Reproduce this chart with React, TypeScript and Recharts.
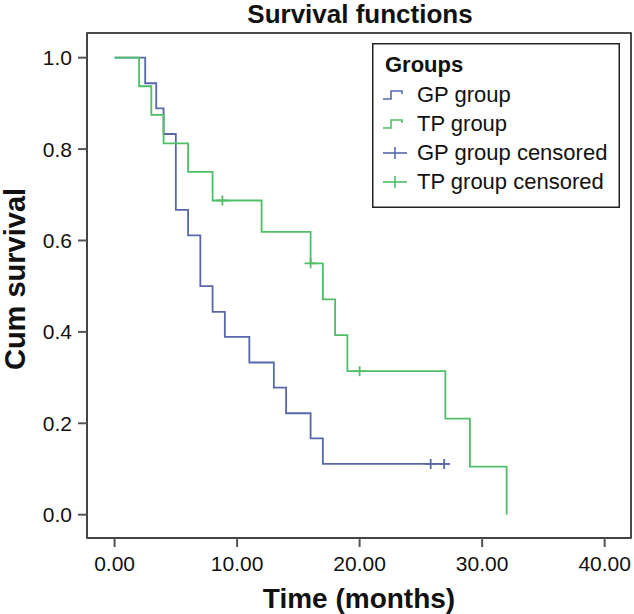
import { ComposedChart, Line, Scatter, XAxis, YAxis, ReferenceArea, Legend } from "recharts";

// Kaplan-Meier steps (time in months, cum survival)
const gpTime = [0, 2.5, 3.4, 4, 5, 6, 7, 8, 9, 11, 13, 14, 16, 17, 27];
const gpSurv = [1, 0.944, 0.889, 0.833, 0.667, 0.611, 0.5, 0.444, 0.389, 0.333, 0.278, 0.222, 0.167, 0.111, 0.111];
const gpCensTime = [25.8, 26.9];
const gpCensSurv = [0.111, 0.111];

const tpTime = [0, 2, 3, 4, 6, 8, 12, 16, 17, 18, 19, 27, 29, 32];
const tpSurv = [1, 0.9375, 0.875, 0.8125, 0.75, 0.6875, 0.619, 0.55, 0.471, 0.393, 0.314, 0.21, 0.105, 0];
const tpCensTime = [8.8, 16, 20];
const tpCensSurv = [0.6875, 0.55, 0.314];

const xTicks = [0, 10, 20, 30, 40];
const yTicks = [0, 0.2, 0.4, 0.6, 0.8, 1.0];
const legendNames = ["GP group", "TP group", "GP group censored", "TP group censored"];

const GP = "#5867ad";
const TP = "#4fbf66";
const FONT = "Arial, 'Liberation Sans', sans-serif";
const xDom = [-2.25, 42.15];
const yDom = [-0.051, 1.054];

const toPts = (t: number[], s: number[]) => t.map((v, i) => ({ t: v, s: s[i] }));

const gpData = toPts(gpTime, gpSurv);
const tpData = toPts(tpTime, tpSurv);
const gpCens = toPts(gpCensTime, gpCensSurv);
const tpCens = toPts(tpCensTime, tpCensSurv);

const cross = (color: string) => (p: any) => (
  <g>
    <line x1={p.cx - 6} x2={p.cx + 6} y1={p.cy} y2={p.cy} stroke={color} strokeWidth={1.8} />
    <line x1={p.cx} x2={p.cx} y1={p.cy - 5} y2={p.cy + 5} stroke={color} strokeWidth={1.8} />
  </g>
);

function LegendBox() {
  const colors = [GP, TP, GP, TP];
  return (
    <svg width={248} height={165} style={{ display: "block", fontFamily: FONT }}>
      <rect x={0.75} y={0.75} width={246.5} height={163.5} fill="#fff" stroke="#222" strokeWidth={1.5} />
      <text x={13} y={29} fontSize={22} fontWeight="bold" fill="#111">Groups</text>
      {legendNames.map((name, i) => {
        const base = 59 + i * 29;
        const yc = base - 7;
        return (
          <g key={name}>
            {i < 2 ? (
              <path d={`M11,${yc + 4} H19 V${yc - 4} H30 V${yc - 1}`} fill="none" stroke={colors[i]} strokeWidth={1.6} />
            ) : (
              <g stroke={colors[i]} strokeWidth={1.6}>
                <line x1={11} x2={35} y1={yc} y2={yc} />
                <line x1={23} x2={23} y1={yc - 6} y2={yc + 6} />
              </g>
            )}
            <text x={45} y={base} fontSize={22} fill="#111">{name}</text>
          </g>
        );
      })}
    </svg>
  );
}

export default function App() {
  return (
    <div style={{ position: "absolute", left: 0, top: 0, width: 634, height: 614, background: "#fff", fontFamily: FONT }}>
      <div
        style={{
          position: "absolute",
          left: 360,
          top: 1,
          transform: "translateX(-50%)",
          whiteSpace: "nowrap",
          fontSize: 26,
          lineHeight: "26px",
          fontWeight: "bold",
          color: "#111",
        }}
      >
        Survival functions
      </div>
      <ComposedChart width={634} height={614} margin={{ top: 33, right: 3, bottom: 0, left: 0 }}>
        <ReferenceArea x1={xDom[0]} x2={xDom[1]} y1={yDom[0]} y2={yDom[1]} fill="none" stroke="#111" strokeWidth={1.5} ifOverflow="visible" />
        <XAxis
          type="number"
          dataKey="t"
          domain={xDom}
          allowDataOverflow
          ticks={xTicks}
          tickFormatter={(v: number) => v.toFixed(2)}
          height={76}
          tickSize={9}
          tickMargin={9}
          axisLine={{ stroke: "#444", strokeWidth: 2 }}
          tickLine={{ stroke: "#555", strokeWidth: 2 }}
          tick={{ fill: "#111", fontSize: 21, fontFamily: FONT }}
          label={{ value: "Time (months)", position: "insideBottom", offset: 6, fill: "#111", fontSize: 28, fontWeight: "bold", fontFamily: FONT }}
        />
        <YAxis
          type="number"
          domain={yDom}
          allowDataOverflow
          ticks={yTicks}
          tickFormatter={(v: number) => v.toFixed(1)}
          width={87}
          tickSize={9}
          tickMargin={6}
          axisLine={{ stroke: "#444", strokeWidth: 2 }}
          tickLine={{ stroke: "#555", strokeWidth: 2 }}
          tick={{ fill: "#111", fontSize: 21, fontFamily: FONT }}
          label={{
            content: () => (
              <text
                x={15}
                y={279}
                transform="rotate(-90 15 279)"
                textAnchor="middle"
                dominantBaseline="central"
                fontSize={29}
                fontWeight="bold"
                fill="#111"
                fontFamily={FONT}
              >
                Cum survival
              </text>
            ),
          }}
        />
        <Line data={gpData} dataKey="s" type="stepAfter" stroke={GP} strokeWidth={1.8} dot={false} isAnimationActive={false} legendType="none" />
        <Line data={tpData} dataKey="s" type="stepAfter" stroke={TP} strokeWidth={1.8} dot={false} isAnimationActive={false} legendType="none" />
        <Scatter data={gpCens} dataKey="s" shape={cross(GP)} isAnimationActive={false} legendType="none" />
        <Scatter data={tpCens} dataKey="s" shape={cross(TP)} isAnimationActive={false} legendType="none" />
        <Legend
          layout="horizontal"
          verticalAlign="middle"
          align="center"
          content={() => <LegendBox />}
          wrapperStyle={{ position: "absolute", left: 372, top: 43, width: 248, height: 165, right: "auto", bottom: "auto" }}
        />
      </ComposedChart>
    </div>
  );
}
